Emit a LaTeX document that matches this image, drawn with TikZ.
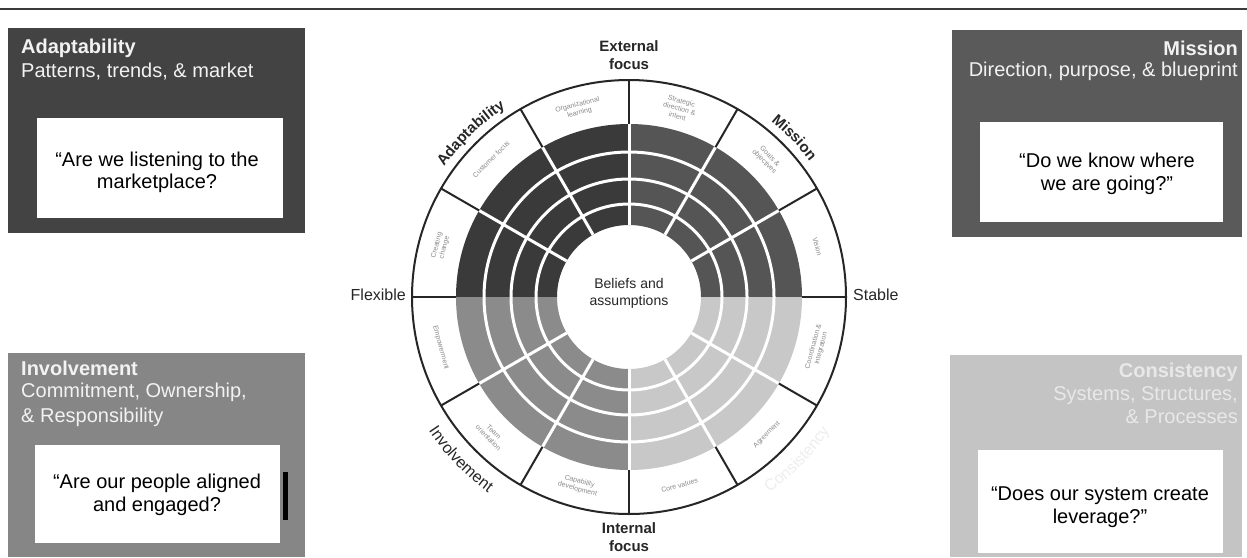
\documentclass[tikz,border=0pt]{standalone}
\usepackage{fontspec}
\setmainfont{Liberation Sans}
\usetikzlibrary{decorations.text}

% quadrant fills of the wheel
\definecolor{adaptfill}{HTML}{3A3A3A}
\definecolor{missionfill}{HTML}{555555}
\definecolor{involvefill}{HTML}{8B8B8B}
\definecolor{consistfill}{HTML}{C8C8C8}
% side panels
\definecolor{adaptpanel}{HTML}{434343}
\definecolor{missionpanel}{HTML}{5A5A5A}
\definecolor{involvepanel}{HTML}{868686}
\definecolor{consistpanel}{HTML}{C4C4C4}
% inks
\definecolor{inkdark}{HTML}{262626}
\definecolor{celltext}{HTML}{8A8A8A}
\definecolor{headwhite}{HTML}{F2F2F2}
\definecolor{paletext}{HTML}{E8E8E8}
\definecolor{ghosttext}{HTML}{EEEEEE}
\definecolor{rulegrey}{HTML}{3A3A3A}

\tikzset{
  panel/.style={rectangle, inner sep=0pt, outer sep=0pt, draw=none},
  quotebox/.style={rectangle, fill=white, inner sep=0pt, outer sep=0pt, draw=none},
  quotetext/.style={align=center, font=\fontsize{20}{22.5}\selectfont, text=black, inner sep=0pt},
  headbold/.style={font=\fontsize{20}{22}\selectfont\bfseries, inner sep=0pt},
  headplain/.style={font=\fontsize{20}{22}\selectfont, inner sep=0pt},
  axislabel/.style={font=\fontsize{15}{18.5}\selectfont\bfseries, text=inkdark, align=center, inner sep=0pt},
  sidelabel/.style={font=\fontsize{16}{18}\selectfont, text=inkdark, inner sep=0pt},
  corelabel/.style={font=\fontsize{14}{17}\selectfont, text=inkdark, align=center, inner sep=0pt},
  cell/.style={font=\fontsize{7}{8}\selectfont, text=celltext, align=center, inner sep=0pt},
  ringgap/.style={white, line width=3pt},
  spoke/.style={inkdark, line width=2pt},
}

\begin{document}
\begin{tikzpicture}[x=1pt, y=1pt]
\useasboundingbox (0,0) rectangle (1247,-557);
\fill[white] (0,0) rectangle (1247,-557);

% top rule
\coordinate (ruleL) at (0,-9);
\coordinate (ruleR) at (1247,-9);
\draw[rulegrey, line width=2pt] (ruleL) -- (ruleR);

% ---------- side panels ----------
\node[panel, fill=adaptpanel, minimum width=297pt, minimum height=205pt] (adaptbox) at (156.5,-130.5) {};
\node[quotebox, minimum width=246pt, minimum height=100pt] (adaptq) at (160,-168) {};
\node[headbold, text=headwhite, anchor=base west] (adapth1) at (21,-53) {Adaptability};
\node[headplain, text=headwhite, anchor=base west] (adapth2) at (21,-77) {Patterns, trends, \& market};
\node[quotetext] (adaptqt) at (157,-172.5) {“Are we listening to the\\marketplace?};

\node[panel, fill=missionpanel, minimum width=290pt, minimum height=207pt] (missionbox) at (1097,-133.5) {};
\node[quotebox, minimum width=243pt, minimum height=100pt] (missionq) at (1101.5,-172) {};
\node[headbold, text=headwhite, anchor=base east] (missionh1) at (1238,-55) {Mission};
\node[headplain, text=headwhite, anchor=base east] (missionh2) at (1238,-76) {Direction, purpose, \& blueprint};
\node[quotetext] (missionqt) at (1107,-174) {“Do we know where\\we are going?”};

\node[panel, fill=involvepanel, minimum width=297pt, minimum height=204pt] (involvebox) at (156.5,-455) {};
\node[quotebox, minimum width=245pt, minimum height=98pt] (involveq) at (157.5,-494) {};
\node[panel, fill=black, minimum width=5pt, minimum height=48pt] (involvemark) at (285.5,-496) {};
\node[headbold, text=headwhite, anchor=base west] (involveh1) at (21,-375) {Involvement};
\node[headplain, text=headwhite, anchor=base west] (involveh2) at (21,-397) {Commitment, Ownership,};
\node[headplain, text=headwhite, anchor=base west] (involveh3) at (21,-422) {\& Responsibility};
\node[quotetext] (involveqt) at (157,-495) {“Are our people aligned\\and engaged?};

\node[panel, fill=consistpanel, minimum width=292pt, minimum height=202pt] (consistbox) at (1096,-456) {};
\node[quotebox, minimum width=245pt, minimum height=103pt] (consistq) at (1100.5,-501.5) {};
\node[headbold, text=paletext, anchor=base east] (consisth1) at (1238,-377) {Consistency};
\node[headplain, text=paletext, anchor=base east] (consisth2) at (1238,-400) {Systems, Structures,};
\node[headplain, text=paletext, anchor=base east] (consisth3) at (1238,-423) {\& Processes};
\node[quotetext] (consistqt) at (1100,-507) {“Does our system create\\leverage?”};

% ---------- the wheel ----------
\begin{scope}[shift={(629,-297)}]
  % coloured band, one quadrant per trait
  \foreach \a/\col in {0/missionfill, 90/adaptfill, 180/involvefill, 270/consistfill}{
    \pgfmathsetmacro{\b}{\a+90}
    \fill[\col] (\a:173) arc[start angle=\a, end angle=\b, radius=173]
      -- (\b:72) arc[start angle=\b, end angle=\a, radius=72] -- cycle;
  }
  % white ring separators
  \foreach \r in {93,118,145}{
    \draw[ringgap] (0,0) circle[radius=\r];
  }
  % white spokes inside the band
  \foreach \a in {30,60,90,120,150,210,240,270,300,330}{
    \draw[ringgap] (\a:72) -- (\a:173);
  }
  % black spokes across the outer ring
  \foreach \a in {0,30,...,330}{
    \draw[spoke] (\a:173) -- (\a:217);
  }
  \draw[inkdark, line width=2pt] (0,0) circle[radius=217];

  % cell labels in the outer ring
  \node[cell, rotate=15]  (c-orglearn)  at (105:195) {Organizational\\learning};
  \node[cell, rotate=45]  (c-customer)  at (135:195) {Customer focus};
  \node[cell, rotate=75]  (c-change)    at (165:195) {Creating\\change};
  \node[cell, rotate=-15] (c-strategy)  at (75:195)  {Strategic\\direction \&\\intent};
  \node[cell, rotate=-45] (c-goals)     at (45:195)  {Goals \&\\objectives};
  \node[cell, rotate=-75] (c-vision)    at (15:195)  {Vision};
  \node[cell, rotate=-75] (c-empower)   at (195:195) {Empowerment};
  \node[cell, rotate=-45] (c-team)      at (225:195) {Team\\orientation};
  \node[cell, rotate=-15] (c-capab)     at (255:195) {Capability\\development};
  \node[cell, rotate=15]  (c-core)      at (285:195) {Core values};
  \node[cell, rotate=45]  (c-agree)     at (315:195) {Agreement};
  \node[cell, rotate=75]  (c-coord)     at (345:195) {Coordination \&\\integration};

  % centre
  \node[corelabel] (core) at (0,4) {Beliefs and\\assumptions};

  % trait names set along the rim
  \path[decorate, decoration={text along path, text align=center,
      text={|\fontsize{15}{15}\selectfont\bfseries\color{inkdark}|Adaptability}}]
    (162:226) arc[start angle=162, end angle=106, radius=226];
  \path[decorate, decoration={text along path, text align=center,
      text={|\fontsize{15}{15}\selectfont\bfseries\color{inkdark}|Mission}}]
    (72:226) arc[start angle=72, end angle=16, radius=226];
  \path[decorate, decoration={text along path, text align=center,
      text={|\fontsize{16}{16}\selectfont\color{inkdark}|Involvement}}]
    (194:241) arc[start angle=194, end angle=254, radius=241];
  \path[decorate, decoration={text along path, text align=center,
      text={|\fontsize{16}{16}\selectfont\color{ghosttext}|Consistency}}]
    (286:241) arc[start angle=286, end angle=346, radius=241];
\end{scope}

% axis labels
\node[axislabel, anchor=base] (ext1) at (629,-51) {External};
\node[axislabel, anchor=base] (ext2) at (629,-69) {focus};
\node[axislabel, anchor=base] (int1) at (629,-533) {Internal};
\node[axislabel, anchor=base] (int2) at (629,-551) {focus};
\node[sidelabel, anchor=east] (flex) at (406,-295) {Flexible};
\node[sidelabel, anchor=west] (stable) at (853,-295) {Stable};
\end{tikzpicture}
\end{document}
